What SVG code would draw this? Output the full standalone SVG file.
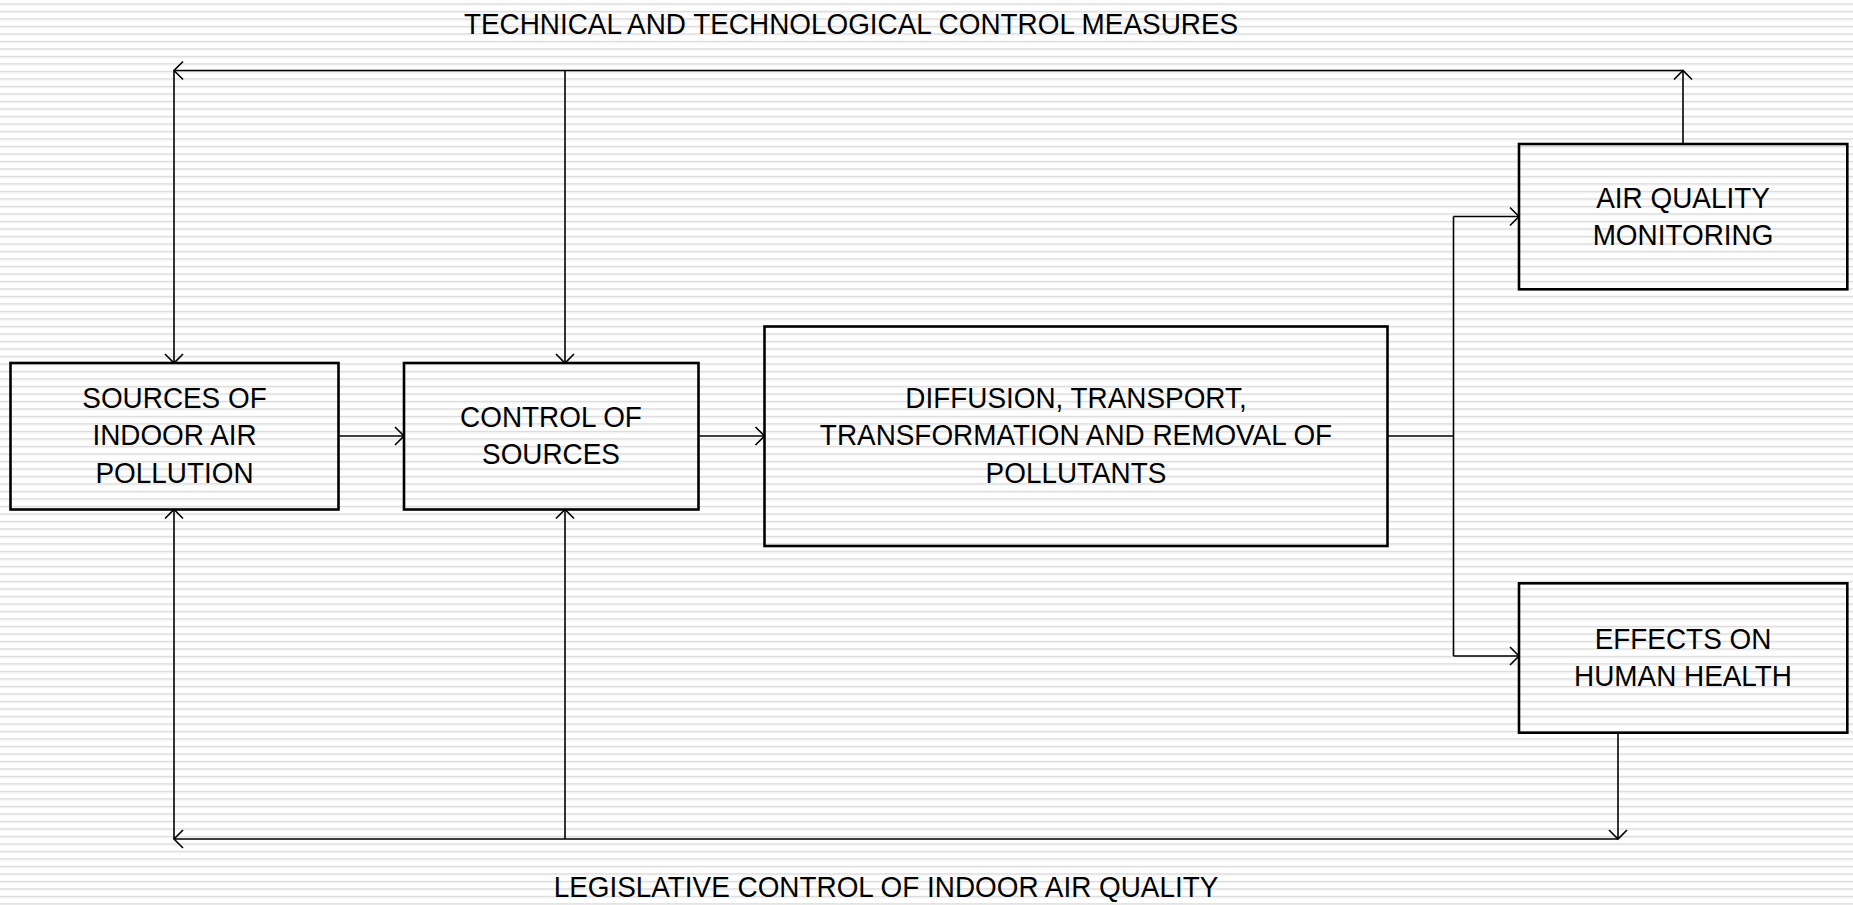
<svg xmlns="http://www.w3.org/2000/svg" width="1853" height="905" viewBox="0 0 1853 905">
  <defs>
    <pattern id="stripes" x="0" y="3.3" width="20" height="7.5" patternUnits="userSpaceOnUse">
      <rect x="0" y="0" width="20" height="1" fill="#d9d9d9"/>
      <rect x="0" y="1" width="20" height="1.2" fill="#ececec"/>
    </pattern>
    <marker id="arrow" markerWidth="24" markerHeight="24" refX="12" refY="12" orient="auto" markerUnits="userSpaceOnUse">
      <path d="M3,3 L12,12 L3,21" fill="none" stroke="#000" stroke-width="1.6"/>
    </marker>
  </defs>
  <style>
    .box { fill: none; stroke: #000; stroke-width: 2.6; }
    .conn { fill: none; stroke: #000; stroke-width: 1.6; }
    .lbl { font-family: "Liberation Sans", Arial, sans-serif; font-size: 30px; fill: #000; text-anchor: middle; }
  </style>
  <rect x="0" y="0" width="1853" height="905" fill="#ffffff"/>
  <rect x="0" y="0" width="1853" height="905" fill="url(#stripes)"/>

  <g id="connectors">
    <path class="conn" d="M1683,144 V70.5" marker-end="url(#arrow)"/>
    <path class="conn" d="M1683,70.5 H174" marker-end="url(#arrow)"/>
    <path class="conn" d="M174,70.5 V363" marker-end="url(#arrow)"/>
    <path class="conn" d="M565,70.5 V363" marker-end="url(#arrow)"/>
    <path class="conn" d="M1618,733 V839" marker-end="url(#arrow)"/>
    <path class="conn" d="M1618,839 H174" marker-end="url(#arrow)"/>
    <path class="conn" d="M174,839 V509.5" marker-end="url(#arrow)"/>
    <path class="conn" d="M565,839 V509.5" marker-end="url(#arrow)"/>
    <path class="conn" d="M338.5,436 H404" marker-end="url(#arrow)"/>
    <path class="conn" d="M698.5,436 H764.5" marker-end="url(#arrow)"/>
    <path class="conn" d="M1387.5,436 H1453.5 M1453.5,216.5 V656"/>
    <path class="conn" d="M1453.5,216.5 H1519" marker-end="url(#arrow)"/>
    <path class="conn" d="M1453.5,656 H1519" marker-end="url(#arrow)"/>
  </g>

  <g id="title-top">
    <text class="lbl" transform="translate(851 34.3) scale(0.93 1)">TECHNICAL AND TECHNOLOGICAL CONTROL MEASURES</text>
  </g>
  <g id="title-bottom">
    <text class="lbl" transform="translate(886 897) scale(0.93 1)">LEGISLATIVE CONTROL OF INDOOR AIR QUALITY</text>
  </g>

  <g id="sources">
    <rect class="box" x="10.5" y="363" width="328" height="146.5"/>
    <text class="lbl" transform="translate(174.5 0) scale(0.93 1)"><tspan x="0" y="408.3">SOURCES OF</tspan><tspan x="0" y="445.5">INDOOR AIR</tspan><tspan x="0" y="482.7">POLLUTION</tspan></text>
  </g>
  <g id="control">
    <rect class="box" x="404" y="363" width="294.5" height="146.5"/>
    <text class="lbl" transform="translate(551 0) scale(0.93 1)"><tspan x="0" y="427.5">CONTROL OF</tspan><tspan x="0" y="464.5">SOURCES</tspan></text>
  </g>
  <g id="diffusion">
    <rect class="box" x="764.5" y="326.5" width="623" height="219.5"/>
    <text class="lbl" transform="translate(1076 0) scale(0.93 1)"><tspan x="0" y="408.3">DIFFUSION, TRANSPORT,</tspan><tspan x="0" y="445.5">TRANSFORMATION AND REMOVAL OF</tspan><tspan x="0" y="482.7">POLLUTANTS</tspan></text>
  </g>
  <g id="monitoring">
    <rect class="box" x="1519" y="144" width="328.3" height="145.3"/>
    <text class="lbl" transform="translate(1683 0) scale(0.93 1)"><tspan x="0" y="208.3">AIR QUALITY</tspan><tspan x="0" y="245">MONITORING</tspan></text>
  </g>
  <g id="health">
    <rect class="box" x="1519" y="583.3" width="328.3" height="149.4"/>
    <text class="lbl" transform="translate(1683 0) scale(0.93 1)"><tspan x="0" y="649.5">EFFECTS ON</tspan><tspan x="0" y="686">HUMAN HEALTH</tspan></text>
  </g>
</svg>
